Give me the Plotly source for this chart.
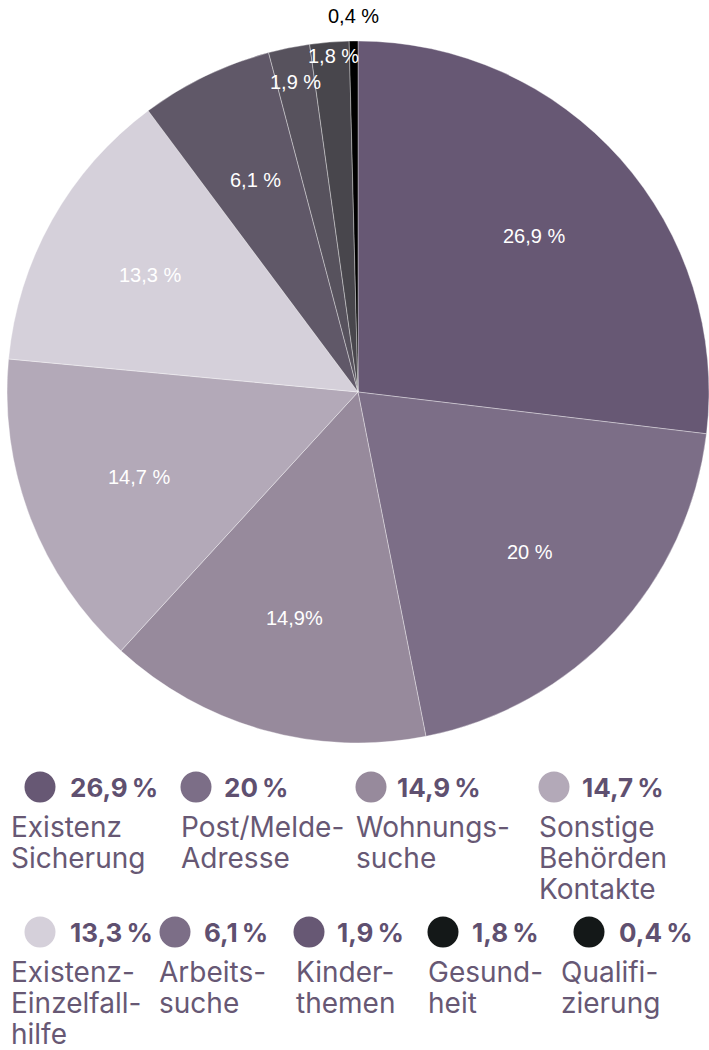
import math
import plotly.graph_objects as go

# ---------------- data ----------------
categories = [
    "Existenz Sicherung", "Post/Melde-Adresse", "Wohnungssuche",
    "Sonstige Behörden Kontakte", "Existenz-Einzelfallhilfe", "Arbeitssuche",
    "Kinderthemen", "Gesundheit", "Qualifizierung",
]
values = [26.9, 20.0, 14.9, 14.7, 13.3, 6.1, 1.9, 1.8, 0.4]
pie_text = ["26,9 %", "20 %", "14,9%", "14,7 %", "13,3 %", "6,1 %", "1,9 %", "1,8 %", "0,4 %"]
legend_pct = ["26,9\u2009%", "20\u2009%", "14,9\u2009%", "14,7\u2009%", "13,3\u2009%",
              "6,1\u2009%", "1,9\u2009%", "1,8\u2009%", "0,4\u2009%"]
legend_lines = [
    ["Existenz", "Sicherung"], ["Post/Melde-", "Adresse"], ["Wohnungs-", "suche"],
    ["Sonstige", "Behörden", "Kontakte"], ["Existenz-", "Einzelfall-", "hilfe"],
    ["Arbeits-", "suche"], ["Kinder-", "themen"], ["Gesund-", "heit"], ["Qualifi-", "zierung"],
]

# ---------------- styles ----------------
slice_colors = ["#675874", "#7c6e87", "#978a9c", "#b3a9b8", "#d5d0da",
                "#605868", "#57525d", "#48464c", "#000000"]
legend_colors = ["#675874", "#7c6e87", "#978a9c", "#b3a9b8", "#d5d0da",
                 "#7c6e87", "#675874", "#141818", "#141818"]
text_colors = ["white"] * 8 + ["black"]
label_radius = [0.67, 0.67, 0.67, 0.67, 0.68, 0.67, 0.90, 0.96, 1.07]  # fraction of pie radius
label_angle_shift = [0, 0, 0, 0, 0, 0, 0, 0.01, 0]  # radians, small nudges

W, H = 709, 1050
PIE_LEFT, PIE_TOP, PIE_SIZE = 7, 41, 702
# legend layout (pixel positions of each legend entry)
legend_circle_x = [40, 196, 371, 554, 40, 175, 309, 443, 589]
legend_pct_x = [68, 222, 395, 580, 68, 202, 335, 470, 617]
legend_label_x = [10, 180, 355, 538, 10, 158, 295, 427, 560]
legend_row_y = [787, 787, 787, 787, 932, 932, 932, 932, 932]
first_baseline_offset = 50
line_spacing = 31
label_fs = 28
pct_fs = 26

dom_x = [PIE_LEFT / W, (PIE_LEFT + PIE_SIZE) / W]
dom_y = [1 - (PIE_TOP + PIE_SIZE) / H, 1 - PIE_TOP / H]

fig = go.Figure()
fig.add_trace(go.Pie(
    values=values,
    labels=categories,
    text=pie_text,
    textinfo="none",
    sort=False,
    direction="clockwise",
    rotation=0,
    marker=dict(colors=slice_colors, line=dict(color="rgba(255,255,255,0.6)", width=0.6)),
    showlegend=False,
    hoverinfo="label+text",
    domain=dict(x=dom_x, y=dom_y),
))

annotations = []
# slice labels placed at the angular middle of each slice (derived from the values)
total = sum(values)
cx = (dom_x[0] + dom_x[1]) / 2
cy = (dom_y[0] + dom_y[1]) / 2
rx = (dom_x[1] - dom_x[0]) / 2
ry = (dom_y[1] - dom_y[0]) / 2
cum = 0.0
for i, v in enumerate(values):
    mid = (cum + v / 2) / total * 2 * math.pi + label_angle_shift[i]
    cum += v
    f = label_radius[i]
    annotations.append(dict(
        xref="paper", yref="paper",
        x=cx + f * rx * math.sin(mid), y=cy + f * ry * math.cos(mid),
        xanchor="center", yanchor="middle", showarrow=False,
        text=pie_text[i],
        font=dict(family="Liberation Sans, Arial", size=20, color=text_colors[i]),
    ))

shapes = []
r = 15.5
for i in range(len(values)):
    px, py = legend_circle_x[i], legend_row_y[i]
    shapes.append(dict(
        type="circle", xref="paper", yref="paper",
        x0=(px - r) / W, x1=(px + r) / W,
        y0=1 - (py + r) / H, y1=1 - (py - r) / H,
        fillcolor=legend_colors[i], line=dict(width=0),
    ))
    annotations.append(dict(
        xref="paper", yref="paper", x=legend_pct_x[i] / W, y=1 - py / H,
        xanchor="left", yanchor="middle", showarrow=False,
        text="<b>" + legend_pct[i] + "</b>",
        font=dict(family="Inter", size=pct_fs, color="#5f5070"),
    ))
    for j, line in enumerate(legend_lines[i]):
        baseline = py + first_baseline_offset + j * line_spacing
        annotations.append(dict(
            xref="paper", yref="paper", x=legend_label_x[i] / W,
            y=1 - (baseline - label_fs) / H,
            xanchor="left", yanchor="top", align="left", showarrow=False,
            borderpad=0,
            text=line,
            font=dict(family="Inter", size=label_fs, color="#675874"),
        ))

fig.update_layout(
    width=W, height=H,
    margin=dict(l=0, r=0, t=0, b=0),
    paper_bgcolor="white",
    plot_bgcolor="white",
    shapes=shapes,
    annotations=annotations,
)

fig.write_html("out.html", config={"displayModeBar": False},
               post_script="document.body.style.margin='0px';")
